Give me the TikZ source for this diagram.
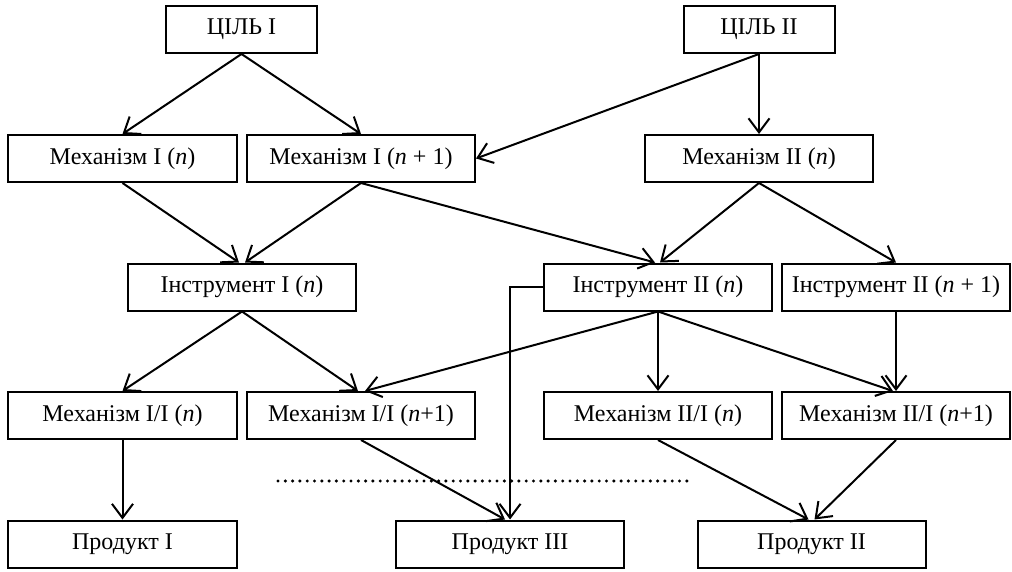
\documentclass[tikz,border=0pt]{standalone}
\usepackage{fontspec}
\setmainfont{Liberation Serif}
\usetikzlibrary{arrows.meta}
\begin{document}
\begin{tikzpicture}[x=1pt,y=-1pt,
  box/.style={draw,line width=2pt,minimum width=228pt,minimum height=47pt,inner sep=0pt,font=\fontsize{24}{28}\selectfont},
  goal/.style={box,minimum width=151pt},
  arr/.style={line width=2pt,-{Straight Barb[length=14pt,width=21pt,line width=2pt]}}]
\useasboundingbox (0,0) rectangle (1012,572);
\node[goal] (c1) at (241.5,29.5) {ЦІЛЬ I};
\node[goal] (c2) at (759,29.5) {ЦІЛЬ II};
\node[box,minimum width=229pt] (m1) at (122.5,158.5) {Механізм I (\textit{n})};
\node[box] (m2) at (361,158.5) {Механізм I (\textit{n} + 1)};
\node[box] (m3) at (759,158.5) {Механізм II (\textit{n})};
\node[box] (i1) at (242,287) {Інструмент I (\textit{n})};
\node[box] (i2) at (658,287) {Інструмент II (\textit{n})};
\node[box] (i3) at (896,287) {Інструмент II (\textit{n} + 1)};
\node[box,minimum width=229pt] (p1) at (122.5,415.5) {Механізм I/I (\textit{n})};
\node[box] (p2) at (361,415.5) {Механізм I/I (\textit{n}+1)};
\node[box] (p3) at (658,415.5) {Механізм II/I (\textit{n})};
\node[box] (p4) at (896,415.5) {Механізм II/I (\textit{n}+1)};
\node[box,minimum width=229pt] (r1) at (122.5,544) {Продукт I};
\node[box] (r3) at (510,544) {Продукт III};
\node[box] (r2) at (811.5,544) {Продукт II};
\coordinate (d1) at (278,481);
\coordinate (d2) at (690,481);
\draw[line width=3.4pt,line cap=round,dash pattern=on 0pt off 7.3pt] (d1) -- (d2);
\draw[arr] (c1.south) -- (m1.north);
\draw[arr] (c1.south) -- (m2.north);
\draw[arr] (c2.south) -- (m2.east);
\draw[arr] (c2.south) -- (m3.north);
\draw[arr] (m1.south) -- ([xshift=-3pt]i1.north);
\draw[arr] (m2.south) -- ([xshift=3pt]i1.north);
\draw[arr] (m2.south) -- ([xshift=-3pt]i2.north);
\draw[arr] (m3.south) -- ([xshift=2pt]i2.north);
\draw[arr] (m3.south) -- (i3.north);
\draw[arr] (i1.south) -- (p1.north);
\draw[arr] (i1.south) -- ([xshift=-3pt]p2.north);
\draw[arr] (i2.south) -- ([xshift=4pt]p2.north);
\draw[arr] (i2.south) -- (p3.north);
\draw[arr] (i2.south) -- ([xshift=-3pt]p4.north);
\draw[arr] (i3.south) -- (p4.north);
\draw[arr] (p1.south) -- (r1.north);
\draw[arr] (p2.south) -- ([xshift=-5pt]r3.north);
\draw[arr] (i2.west) -| (r3.north);
\draw[arr] (p3.south) -- ([xshift=-3pt]r2.north);
\draw[arr] (p4.south) -- ([xshift=3pt]r2.north);
\end{tikzpicture}
\end{document}
